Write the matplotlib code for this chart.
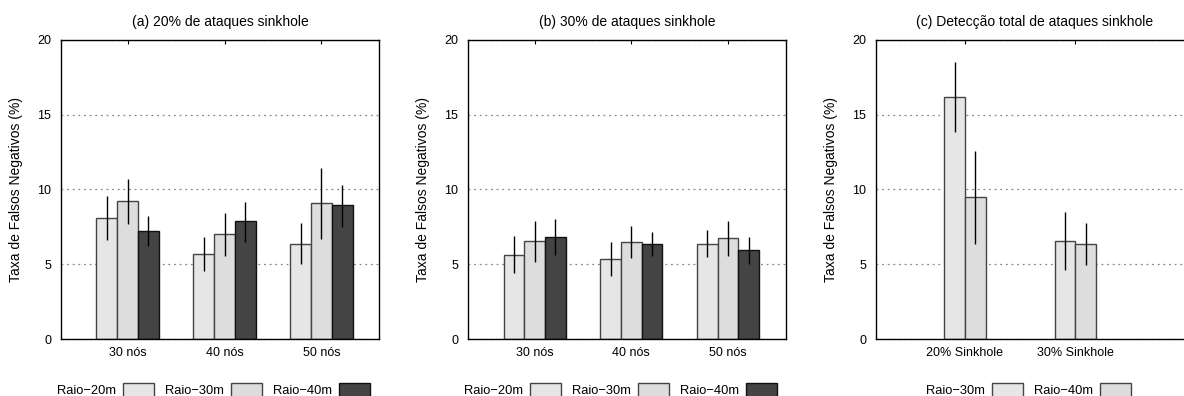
import numpy as np
import matplotlib.pyplot as plt
from matplotlib.patches import Patch

plt.rcParams['font.family'] = ['Liberation Sans', 'DejaVu Sans']
plt.rcParams['font.size'] = 9

# (a) e (b): grupos por numero de nos
grupos_nos = ["30 nós", "40 nós", "50 nós"]
raios = ["Raio\u221220m", "Raio\u221230m", "Raio\u221240m"]

fn_20 = [[8.1, 5.66, 6.37],   # Raio-20m
         [9.2, 7.0, 9.06],    # Raio-30m
         [7.24, 7.86, 8.93]]  # Raio-40m
fn_20_lo = [[6.6, 4.53, 5.0],
            [7.7, 5.57, 6.7],
            [6.2, 6.5, 7.5]]
fn_20_hi = [[9.58, 6.83, 7.75],
            [10.7, 8.44, 11.42],
            [8.22, 9.17, 10.28]]

fn_30 = [[5.63, 5.34, 6.37],
         [6.52, 6.5, 6.75],
         [6.81, 6.35, 5.92]]
fn_30_lo = [[4.38, 4.23, 5.48],
            [5.12, 5.43, 5.57],
            [5.59, 5.54, 5.0]]
fn_30_hi = [[6.87, 6.46, 7.28],
            [7.9, 7.53, 7.88],
            [8.01, 7.13, 6.81]]

# (c): deteccao total
grupos_total = ["20% Sinkhole", "30% Sinkhole"]
raios_total = ["Raio\u221230m", "Raio\u221240m"]
fn_total = [[16.19, 6.52],
            [9.47, 6.37]]
fn_total_lo = [[13.81, 4.61],
               [6.37, 4.94]]
fn_total_hi = [[18.53, 8.46],
               [12.56, 7.77]]

cores = ["#e6e6e6", "#dddddd", "#444444"]
bordas = ["#444444", "#444444", "#111111"]
cores_total = ["#e6e6e6", "#dddddd"]

W, H = 1184, 396
fig = plt.figure(figsize=(W / 100, H / 100), dpi=100)


def eixo(left_px):
    return fig.add_axes([left_px / W, (H - 339) / H, 318 / W, 299.3 / H])


def desenha(ax, grupos, nomes, vals, lo, hi, cores, bordas, largura, xlim, titulo):
    x = np.arange(len(grupos))
    n = len(nomes)
    for i in range(n):
        pos = x + (i - (n - 1) / 2) * largura
        v = np.array(vals[i])
        err = [v - np.array(lo[i]), np.array(hi[i]) - v]
        ax.bar(pos, v, largura, color=cores[i], edgecolor=bordas[i],
               linewidth=1.0, label=nomes[i], zorder=2)
        ax.errorbar(pos, v, yerr=err, fmt='none', ecolor='black',
                    elinewidth=1.0, capsize=0, zorder=3)
    ax.set_xlim(*xlim)
    ax.set_ylim(0, 20)
    ax.set_yticks([0, 5, 10, 15, 20])
    ax.set_xticks(x)
    ax.set_xticklabels(grupos)
    ax.tick_params(axis='y', length=0, pad=7)
    ax.tick_params(axis='x', bottom=False, top=True, direction='in',
                   length=3, width=0.8, pad=6)
    ax.yaxis.grid(True, linestyle=(0, (1.5, 3)), color='#888888', linewidth=0.9)
    ax.set_axisbelow(True)
    for s in ax.spines.values():
        s.set_linewidth(1.0)
    ax.set_ylabel("Taxa de Falsos Negativos (%)", fontsize=10, labelpad=10)
    ax.set_title(titulo, fontsize=10, pad=10)
    handles = [Patch(facecolor=cores[i], edgecolor=bordas[i], linewidth=1.0)
               for i in range(n)]
    ax.legend(handles, nomes, loc='center', bbox_to_anchor=(0.479, -0.17),
              ncol=n, frameon=False, markerfirst=False, fontsize=9.3,
              handlelength=2.4, handleheight=1.3, handletextpad=0.55,
              columnspacing=0.85, borderaxespad=0)


ax1 = eixo(61)
desenha(ax1, grupos_nos, raios, fn_20, fn_20_lo, fn_20_hi, cores, bordas,
        0.214, (-0.686, 2.593), "(a) 20% de ataques sinkhole")

ax2 = eixo(468)
desenha(ax2, grupos_nos, raios, fn_30, fn_30_lo, fn_30_hi, cores, bordas,
        0.214, (-0.69, 2.60), "(b) 30% de ataques sinkhole")

ax3 = eixo(876)
desenha(ax3, grupos_total, raios_total, fn_total, fn_total_lo, fn_total_hi,
        cores_total, ["#444444", "#444444"], 0.188, (-0.805, 2.073),
        "(c) Detecção total de ataques sinkhole")

fig.savefig("out.png", dpi=100)
